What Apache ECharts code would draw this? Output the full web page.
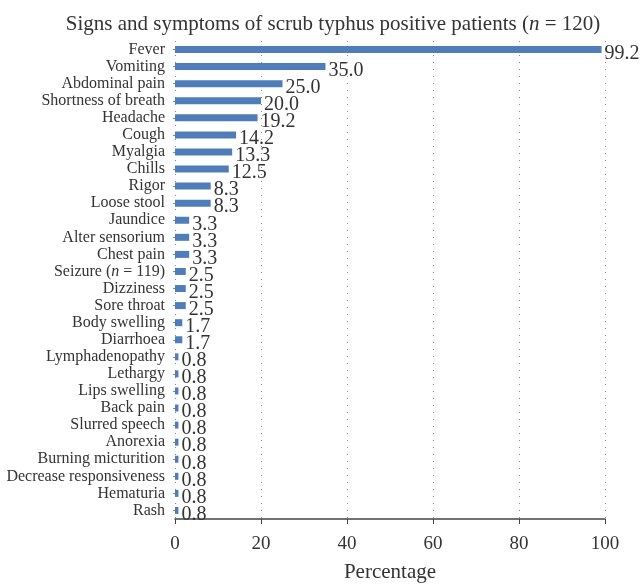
<!DOCTYPE html>
<html>
<head>
<meta charset="utf-8">
<script src="https://cdn.jsdelivr.net/npm/echarts@6/dist/echarts.min.js"></script>
<style>html,body{margin:0;padding:0;background:#fff;}#c{width:643px;height:584px;}</style>
</head>
<body>
<div id="c"></div>
<script>
const categories = ["Fever","Vomiting","Abdominal pain","Shortness of breath","Headache","Cough","Myalgia","Chills","Rigor","Loose stool","Jaundice","Alter sensorium","Chest pain","Seizure (n = 119)","Dizziness","Sore throat","Body swelling","Diarrhoea","Lymphadenopathy","Lethargy","Lips swelling","Back pain","Slurred speech","Anorexia","Burning micturition","Decrease responsiveness","Hematuria","Rash"];
const values = [99.2,35.0,25.0,20.0,19.2,14.2,13.3,12.5,8.3,8.3,3.3,3.3,3.3,2.5,2.5,2.5,1.7,1.7,0.8,0.8,0.8,0.8,0.8,0.8,0.8,0.8,0.8,0.8];
const xTicks = [0,20,40,60,80,100];

const font = "Liberation Serif";
const chart = echarts.init(document.getElementById('c'));
chart.setOption({
  animation: false,
  title: {
    text: "{a|Signs and symptoms of scrub typhus positive patients (}{i|n}{a| = 120)}",
    left: 328, top: 9, textAlign: 'center',
    textStyle: {
      fontWeight: 'normal',
      rich: {
        a: {fontFamily: font, fontSize: 21, color: '#333', fontWeight: 'normal'},
        i: {fontFamily: font, fontSize: 21, color: '#333', fontStyle: 'italic', fontWeight: 'normal'}
      }
    }
  },
  grid: {left: 175, right: 38, top: 41, bottom: 65, containLabel: false, outerBoundsMode: 'none'},
  xAxis: {
    type: 'value', min: 0, max: 100, interval: 20,
    name: 'Percentage', nameLocation: 'middle', nameGap: 43,
    nameTextStyle: {fontFamily: font, fontSize: 21, color: '#333'},
    axisLine: {show: true, lineStyle: {color: '#444', width: 1.5}},
    axisTick: {show: true, length: 5, inside: false, lineStyle: {color: '#444'}},
    axisLabel: {fontFamily: font, fontSize: 19, color: '#333', margin: 16,
      formatter: v => xTicks.includes(v) ? String(v) : ''},
    splitLine: {show: true, lineStyle: {color: '#888', type: [1, 6], width: 1}}
  },
  yAxis: {
    type: 'category', data: categories, inverse: true,
    axisLine: {show: false},
    axisTick: {show: true, length: 2, alignWithLabel: true, lineStyle: {color: '#888'}},
    axisLabel: {
      interval: 0,
      fontFamily: font, fontSize: 16, color: '#333', margin: 10,
      formatter: function (v) {
        if (v.indexOf('(n') >= 0) {
          return '{a|Seizure (}{i|n}{a| = 119)}';
        }
        return '{a|' + v + '}';
      },
      rich: {
        a: {fontFamily: font, fontSize: 16, color: '#333'},
        i: {fontFamily: font, fontSize: 16, color: '#333', fontStyle: 'italic'}
      }
    }
  },
  series: [{
    type: 'bar', data: values, barWidth: 7,
    itemStyle: {color: '#4F7DBA'},
    label: {show: true, position: 'right', distance: 3, offset: [0, 4],
      fontFamily: font, fontSize: 20, color: '#333',
      formatter: p => p.value.toFixed(1)}
  }]
});
</script>
</body>
</html>
